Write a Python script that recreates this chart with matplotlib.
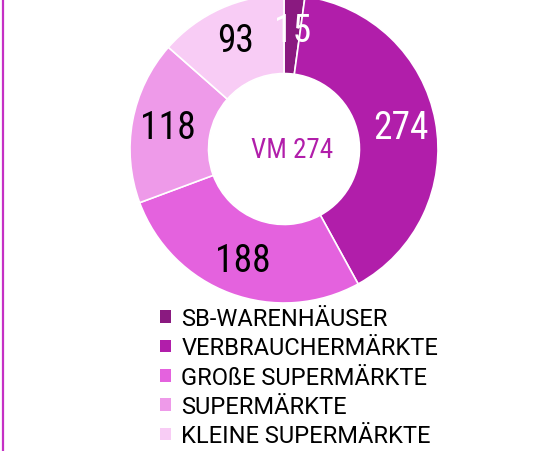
import matplotlib
matplotlib.use("Agg")
import matplotlib.pyplot as plt
from matplotlib.patches import Patch
from matplotlib.lines import Line2D

# donut data
categories = ["SB-WARENHÄUSER", "VERBRAUCHERMÄRKTE", "GROßE SUPERMÄRKTE",
              "SUPERMÄRKTE", "KLEINE SUPERMÄRKTE"]
values = [15, 274, 188, 118, 93]
colors = ["#8a1a80", "#b11eaa", "#e462de", "#ee9ae9", "#f8ccf5"]
label_colors = ["white", "white", "black", "black", "black"]
center_text = "VM 274"

W, H = 555, 452
fig = plt.figure(figsize=(W / 100, H / 100), dpi=100)
ax = fig.add_axes([0, 0, 1, 1])

num_font = ["Roboto Condensed", "DejaVu Sans"]
txt_font = ["Roboto", "DejaVu Sans"]

cx, cy, R = 284, H - 150, 154
wedges, texts = ax.pie(values, colors=colors, startangle=90, counterclock=False,
                       radius=R, center=(cx, cy), labels=[str(v) for v in values],
                       labeldistance=0.77, frame=True,
                       wedgeprops=dict(width=R * 0.51, edgecolor="white", linewidth=1.2),
                       textprops=dict(fontsize=27, family=num_font, ha="center", va="center"))
for t, c in zip(texts, label_colors):
    t.set_color(c)
ax.set_xlim(0, W)
ax.set_ylim(0, H)
ax.set_aspect("equal")
ax.axis("off")

ax.text(cx + 8, cy, center_text, ha="center", va="center", fontsize=19.5,
        family=num_font, color="#b11eaa")

handles = [Patch(facecolor=c, edgecolor="none") for c in colors]
leg = ax.legend(handles, categories, loc="upper left", bbox_to_anchor=(160 / W, 1 - 308 / H),
                frameon=False, prop=dict(family=txt_font, size=17),
                handlelength=0.45, handleheight=0.45, handletextpad=0.45,
                labelspacing=0.27, borderaxespad=0, borderpad=0)

# purple frame line on the left
fig.add_artist(Line2D([3 / W, 3 / W], [0, 1], color="#c530c5", lw=1.6,
                      transform=fig.transFigure))

fig.savefig("out.png", dpi=100)
